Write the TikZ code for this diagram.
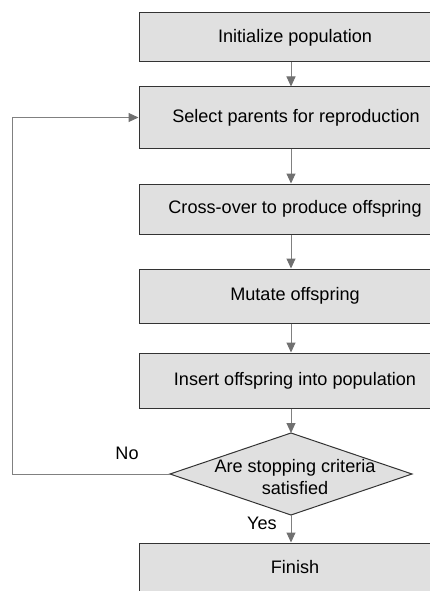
\documentclass[tikz,border=0pt]{standalone}
\usepackage{fontspec}
\setmainfont{Liberation Sans}
\usetikzlibrary{arrows.meta}
\definecolor{boxfill}{HTML}{E0E0E0}
\definecolor{boxline}{HTML}{333333}
\definecolor{conn}{HTML}{808080}
\definecolor{tipc}{HTML}{707070}
\begin{document}
\begin{tikzpicture}[x=1pt,y=-1pt,
  font=\fontsize{18.1}{22.5}\selectfont,
  box/.style={draw=boxline, line width=1pt, fill=boxfill, minimum width=304pt, inner sep=0pt, anchor=center},
  conn/.style={draw=conn, line width=1pt, -{Triangle[length=10pt,width=9pt,fill=tipc,color=tipc]}},
  plain/.style={draw=conn, line width=1pt}
]
\useasboundingbox (0,0) rectangle (429,591);
\node[box, minimum height=49pt] (init) at (291,37.5) {\hspace{8pt}Initialize population};
\node[box, minimum height=61pt] (sel) at (291,117.5) {\hspace{10pt}Select parents for reproduction};
\node[box, minimum height=50pt] (cross) at (291,209) {\hspace{8pt}Cross-over to produce offspring};
\node[box, minimum height=54pt] (mut) at (291,296) {\hspace{8pt}Mutate offspring};
\node[box, minimum height=55pt] (ins) at (291,380.5) {\hspace{8pt}Insert offspring into population};
\coordinate (dtop) at (291,433);
\coordinate (dleft) at (170,474);
\coordinate (dright) at (412,474);
\coordinate (dbot) at (291,515);
\draw[draw=boxline, line width=1pt, fill=boxfill] (dtop) -- (dright) -- (dbot) -- (dleft) -- cycle;
\node[align=center, inner sep=0pt] (dec) at (295,477) {Are stopping criteria\\satisfied};
\node[box, minimum height=48pt] (fin) at (291,567) {\hspace{8pt}Finish};
\coordinate (corner1) at (12,474);
\coordinate (corner2) at (12,117.5);
\node (no) at (127,453) {No};
\node (yes) at (262,523) {Yes};
\draw[conn] (init.south) -- (sel.north);
\draw[conn] (sel.south) -- (cross.north);
\draw[conn] (cross.south) -- (mut.north);
\draw[conn] (mut.south) -- (ins.north);
\draw[conn] (ins.south) -- (dtop);
\draw[conn] (dbot) -- (fin.north);
\draw[conn] (dleft) -- (corner1) -- (corner2) -- (sel.west);
\end{tikzpicture}
\end{document}
